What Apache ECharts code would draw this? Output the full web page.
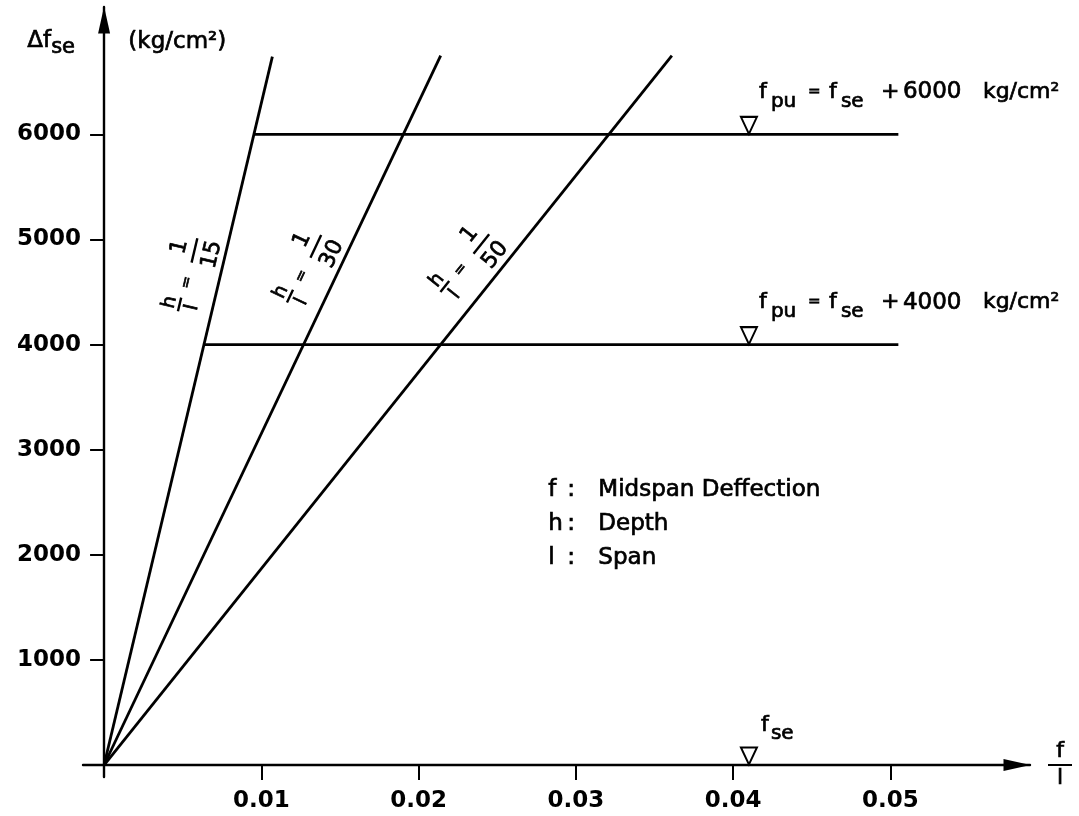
<!DOCTYPE html>
<html>
<head>
<meta charset="utf-8">
<script src="https://cdn.jsdelivr.net/npm/echarts@6/dist/echarts.min.js"></script>
<style>
html, body { margin: 0; padding: 0; background: #fff; }
#main { width: 1079px; height: 816px; }
</style>
</head>
<body>
<div id="main"></div>
<script>
'use strict';

var FONT = '"DejaVu Sans", sans-serif';
var INK = '#000';
var HEAVY = 0.7; // 字体描边加粗

// h/l 斜线：从原点到顶端
var ratioNames = ['15', '30', '50'];
var ratioTopX = [0.0107, 0.0214, 0.0361];
var ratioTopY = [6740, 6750, 6750];
var ratioLabelY = 4550;

// f_pu 水平线
var levelValues = [6000, 4000];
var levelStartX = [0.00953, 0.00635];
var levelEndX = 0.0505;

// ▽ 标记
var markerX = 0.041;
var markerY = [6000, 4000, 0];
var markerAdd = ['6000', '4000', ''];

// 刻度
var xTicks = [0.01, 0.02, 0.03, 0.04, 0.05];
var yTicks = [1000, 2000, 3000, 4000, 5000, 6000];

// 图例说明
var keyLetters = ['f', 'h', 'l'];
var keyTexts = ['Midspan Deffection', 'Depth', 'Span'];

initChart();

function initChart() {
    var myChart = echarts.init(document.getElementById('main'));
    myChart.setOption(buildOption());
}

// 斜线上的 h/l = 1/n 标注（沿线旋转）
function renderRatioLabel(params, api) {
    var i = api.value(2);
    var p = api.coord([api.value(0), api.value(1)]);
    var o = api.coord([0, 0]);
    var angle = Math.atan2(o[1] - p[1], p[0] - o[0]);

    function t(text, x, y, size) {
        return {
            type: 'text', x: x, y: y,
            style: {
                text: text, fontSize: size, fontFamily: 'DejaVu Sans',
                font: size + 'px "DejaVu Sans"',
                fill: INK, textFill: INK,
                stroke: INK, lineWidth: HEAVY,
                textAlign: 'center', textVerticalAlign: 'middle'
            }
        };
    }
    function bar(x, y, w) {
        return {
            type: 'line',
            shape: { x1: x - w / 2, y1: y, x2: x + w / 2, y2: y },
            style: { stroke: INK, lineWidth: 2.4 }
        };
    }
    return {
        type: 'group', x: p[0], y: p[1], rotation: angle,
        children: [
            t('h', -26, -43, 19), bar(-26, -33, 14), t('l', -26, -20, 19),
            t('=', -3, -31, 15),
            t('1', 30, -46, 22), bar(30, -31, 25), t(ratioNames[i], 30, -13, 22)
        ]
    };
}

function txt(size, extra) {
    var s = { fontSize: size, fontFamily: FONT, color: INK, textBorderColor: INK, textBorderWidth: HEAVY };
    for (var k in extra) { s[k] = extra[k]; }
    return s;
}

function buildOption() {
    var series = [];

    ratioNames.forEach(function(name, i) {
        series.push({
            type: 'line',
            symbol: 'none',
            silent: true,
            data: [[0, 0], [ratioTopX[i], ratioTopY[i]]],
            lineStyle: { color: INK, width: 2.8 }
        });
    });

    levelValues.forEach(function(v, i) {
        series.push({
            type: 'line',
            symbol: 'none',
            silent: true,
            data: [[levelStartX[i], v], [levelEndX, v]],
            lineStyle: { color: INK, width: 2.8 }
        });
    });

    var subRich = {
        f: txt(22, { width: 12 }),
        f2: txt(22, { width: 10 }),
        pu: txt(20, { width: 37, padding: [18, 0, 0, 0] }),
        se: txt(20, { width: 40, padding: [18, 0, 0, 0] }),
        eq: txt(15, { width: 21 }),
        pl: txt(22, { width: 22 }),
        num: txt(23, { width: 80 }),
        u: txt(22)
    };

    series.push({
        type: 'scatter',
        silent: true,
        symbol: 'path://M0,0L20,0L10,20Z',
        symbolSize: [16, 17],
        symbolOffset: [0, -9],
        itemStyle: { color: '#fff', borderColor: INK, borderWidth: 2, opacity: 1 },
        data: markerY.map(function(y, i) {
            var text = markerAdd[i] ?
                '{f|f}{pu|pu}{eq|=}{f|f}{se|se}{pl|+}{num|' + markerAdd[i] + '}{u|kg/cm²}' :
                '{f2|f}{se|se}';
            return {
                value: [markerX, y],
                label: {
                    show: true,
                    position: 'right',
                    offset: markerAdd[i] ? [-4, -33] : [-2, -31],
                    formatter: text,
                    fontSize: 22,
                    fontFamily: FONT,
                    color: INK,
                    rich: subRich
                }
            };
        })
    });

    series.push({
        type: 'custom',
        silent: true,
        renderItem: renderRatioLabel,
        data: ratioNames.map(function(n, i) {
            return [ratioLabelY / ratioTopY[i] * ratioTopX[i], ratioLabelY, i];
        })
    });

    var keyText = keyLetters.map(function(k, i) {
        return '{k|' + k + '}{c|:}{v|' + keyTexts[i] + '}';
    }).join('\n');

    var gStyle = { fill: INK, stroke: INK, lineWidth: HEAVY, fontFamily: FONT };

    return {
        animation: false,
        backgroundColor: '#fff',
        grid: {
            left: 83, right: 49, top: 7, bottom: 39,
            outerBoundsMode: 'none'
        },
        xAxis: {
            type: 'value',
            min: -0.00134,
            max: 0.05887,
            splitLine: { show: false },
            axisLine: {
                onZero: true,
                symbol: ['none', 'triangle'],
                symbolSize: [12, 27],
                symbolOffset: [0, -13],
                lineStyle: { color: INK, width: 2.4 }
            },
            axisTick: { show: true, customValues: xTicks, length: 15, lineStyle: { color: INK, width: 2 } },
            axisLabel: {
                customValues: xTicks, margin: 13, color: INK, fontSize: 23, fontWeight: 'bold', fontFamily: FONT,
                formatter: function(v) { return v.toFixed(2); }
            },
            name: '{n|f}\n{b|}\n{n|l}',
            nameLocation: 'end',
            nameGap: 18,
            nameTextStyle: {
                rich: {
                    n: txt(22, { lineHeight: 27, align: 'center' }),
                    b: { width: 24, height: 0, borderColor: INK, borderWidth: 2.2, align: 'center' }
                }
            }
        },
        yAxis: {
            type: 'value',
            min: -114,
            max: 7212,
            splitLine: { show: false },
            axisLine: {
                onZero: true,
                symbol: ['none', 'triangle'],
                symbolSize: [12, 27],
                symbolOffset: [0, -13],
                lineStyle: { color: INK, width: 2.4 }
            },
            axisTick: { show: true, customValues: yTicks, length: 14, lineStyle: { color: INK, width: 2 } },
            axisLabel: {
                customValues: yTicks, margin: 2, color: INK, fontSize: 23, fontWeight: 'bold', fontFamily: FONT,
                formatter: function(v) { return String(v); }
            }
        },
        graphic: [{
            type: 'text',
            left: 27,
            top: 29,
            silent: true,
            style: {
                text: '{d|Δf}{s|se}',
                rich: {
                    d: Object.assign({ fontSize: 23 }, gStyle),
                    s: Object.assign({ fontSize: 21, padding: [14, 0, 0, 0] }, gStyle)
                }
            }
        }, {
            type: 'text',
            left: 128,
            top: 30,
            silent: true,
            style: Object.assign({ text: '(kg/cm²)', fontSize: 23 }, gStyle)
        }, {
            type: 'text',
            left: 548,
            top: 478,
            silent: true,
            style: {
                text: keyText,
                rich: {
                    k: Object.assign({ width: 19, fontSize: 23, lineHeight: 34 }, gStyle),
                    c: Object.assign({ width: 31, fontSize: 23, lineHeight: 34 }, gStyle),
                    v: Object.assign({ fontSize: 23, lineHeight: 34 }, gStyle)
                }
            }
        }],
        series: series
    };
}
</script>
</body>
</html>
